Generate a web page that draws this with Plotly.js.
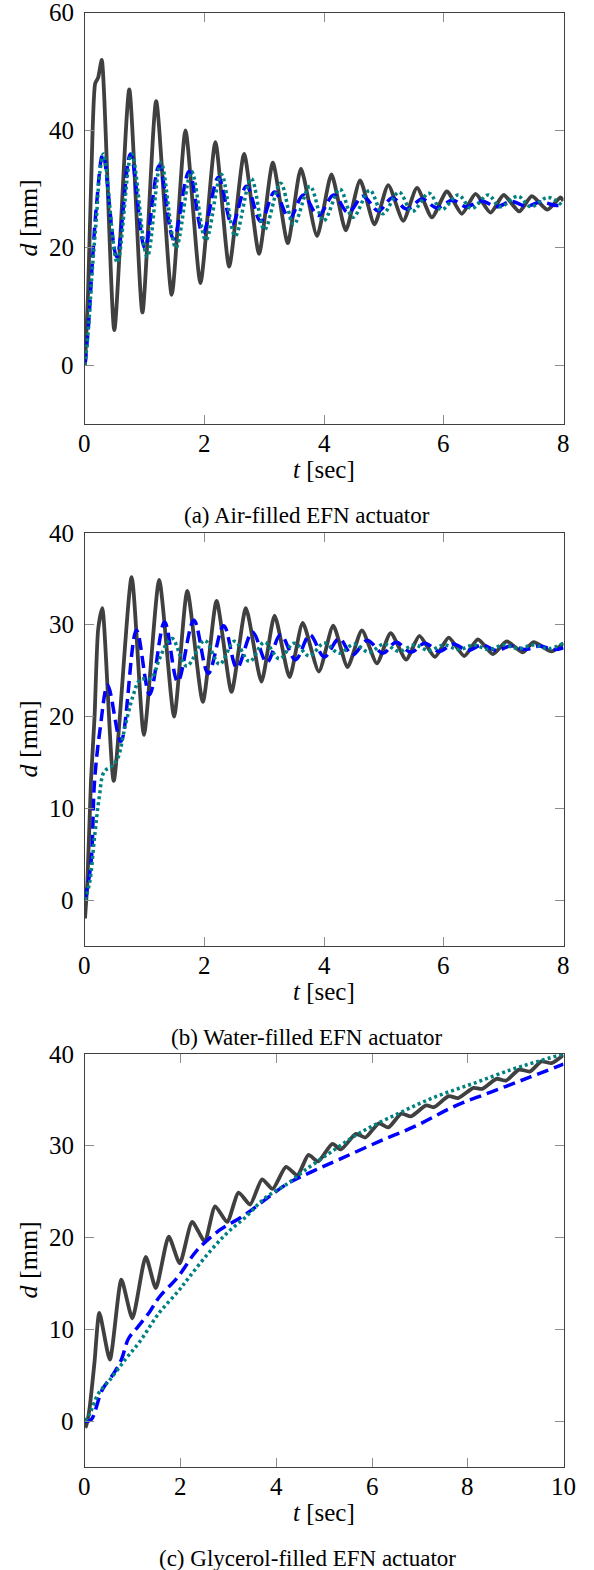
<!DOCTYPE html>
<html>
<head>
<meta charset="utf-8">
<script src="https://cdn.plot.ly/plotly-3.0.1.min.js"></script>
<style>
html,body{margin:0;padding:0;background:#fff;}
#chart{width:594px;height:1570px;}
</style>
</head>
<body>
<div id="chart"></div>
<script>
// ---------- (a) Air-filled ----------
const tA_exp = [0, 0.05, 0.1, 0.17, 0.22, 0.28, 0.49, 0.74, 0.96, 1.19, 1.45, 1.68, 1.93, 2.18, 2.41, 2.66, 2.91, 3.14, 3.39, 3.61, 3.88, 4.12, 4.36, 4.6, 4.84, 5.07, 5.32, 5.55, 5.8, 6.05, 6.3, 6.53, 6.78, 7.0, 7.26, 7.47, 7.73, 7.95, 8.0];
const dA_exp = [0, 12, 30, 48, 49, 52, 6, 47, 9, 45, 12, 40, 14, 38, 16.8, 36, 19, 34.5, 20.8, 33.5, 22, 32.5, 23, 31.5, 24, 30.7, 24.6, 30.2, 25.2, 29.6, 25.8, 29.2, 26, 29, 26.2, 28.8, 26.5, 28.6, 28];
const tA_m1 = [0, 0.06, 0.12, 0.19, 0.3, 0.53, 0.76, 1.0, 1.24, 1.48, 1.74, 1.97, 2.23, 2.46, 2.7, 2.94, 3.17, 3.42, 3.65, 3.9, 4.16, 4.4, 4.65, 4.9, 5.14, 5.38, 5.64, 5.88, 6.14, 6.38, 6.63, 6.88, 7.13, 7.38, 7.62, 7.88, 8.0];
const dA_m1 = [0, 7, 17, 27, 36, 18.5, 36, 20, 34, 21.5, 33, 22.5, 32, 24, 30.5, 24.5, 29.5, 25, 29, 25.5, 29, 26, 28.8, 26.3, 28.5, 26.6, 28.3, 26.8, 28.1, 27, 28, 27, 27.9, 27.1, 27.8, 27.2, 27.4];
const tA_m2 = [0, 0.06, 0.12, 0.19, 0.25, 0.31, 0.54, 0.78, 1.04, 1.27, 1.52, 1.78, 2.02, 2.28, 2.51, 2.78, 3.0, 3.27, 3.49, 3.76, 3.99, 4.26, 4.48, 4.76, 4.98, 5.25, 5.47, 5.75, 5.96, 6.24, 6.46, 6.74, 6.94, 7.24, 7.45, 7.74, 8.0];
const dA_m2 = [0, 6.6, 16, 25, 33, 36, 17.5, 36, 18.5, 34.5, 20, 33, 21.3, 32.5, 22, 31.8, 23.1, 31, 24, 30.5, 24.6, 30, 25.2, 29.8, 25.8, 29.5, 26.2, 29.3, 26.5, 29, 26.7, 29, 27, 28.8, 27, 28.6, 27.0];

// ---------- (b) Water-filled ----------
const tB_exp = [0, 0.04, 0.1, 0.16, 0.22, 0.29, 0.48, 0.78, 0.985, 1.24, 1.49, 1.71, 1.97, 2.2, 2.45, 2.69, 2.95, 3.17, 3.42, 3.64, 3.91, 4.15, 4.39, 4.63, 4.88, 5.11, 5.37, 5.59, 5.85, 6.08, 6.34, 6.57, 6.82, 7.05, 7.32, 7.5, 7.8, 8.0];
const dB_exp = [-2, 2, 13, 20, 29.5, 31.8, 13, 35.2, 18, 34.9, 20, 33.7, 21.6, 32.6, 22.7, 31.8, 23.8, 31, 24.3, 30.2, 24.9, 29.9, 25.4, 29.4, 25.8, 29.1, 26.2, 28.8, 26.5, 28.6, 26.6, 28.4, 26.8, 28.2, 27, 28.1, 27.1, 28];
const tB_m1 = [0, 0.1, 0.16, 0.25, 0.38, 0.6, 0.86, 1.08, 1.33, 1.55, 1.82, 2.06, 2.32, 2.54, 2.8, 3.04, 3.27, 3.52, 3.76, 4.0, 4.25, 4.47, 4.72, 4.98, 5.2, 5.45, 5.68, 5.92, 6.16, 6.4, 6.64, 6.88, 7.12, 7.36, 7.6, 7.84, 8.0];
const dB_m1 = [0, 4, 13, 18.5, 23.4, 17.3, 29.4, 22.4, 30.3, 23.8, 30.5, 24.7, 29.9, 25.3, 29.2, 25.9, 28.9, 26.2, 28.9, 26.5, 28.5, 26.7, 28.3, 26.9, 28.1, 27, 28, 27.1, 27.9, 27.2, 27.8, 27.2, 27.7, 27.3, 27.7, 27.3, 27.5];
const tB_m2 = [0, 0.08, 0.16, 0.24, 0.32, 0.45, 0.55, 0.67, 0.8, 0.92, 1.11, 1.24, 1.37, 1.46, 1.7, 2.0, 2.25, 2.5, 2.75, 3.0, 3.25, 3.5, 3.75, 4.0, 4.25, 4.5, 4.75, 5.0, 5.25, 5.5, 5.75, 6.0, 6.25, 6.5, 6.75, 7.0, 7.25, 7.5, 7.75, 8.0];
const dB_m2 = [0, 2, 6.9, 11.3, 14, 14.6, 15.5, 18.9, 22.2, 24, 24.2, 26.2, 28, 28.5, 25.5, 28.3, 25.7, 28.2, 26, 28.1, 26.3, 28, 26.6, 28, 26.9, 27.9, 27, 27.9, 27.1, 27.8, 27.2, 27.8, 27.3, 27.8, 27.3, 27.8, 27.4, 27.8, 27.4, 28];

// ---------- (c) Glycerol-filled ----------
const tC_exp = [0, 0.03, 0.1, 0.2, 0.3, 0.52, 0.76, 0.99, 1.27, 1.48, 1.75, 1.98, 2.24, 2.5, 2.72, 2.97, 3.21, 3.45, 3.7, 3.92, 4.2, 4.44, 4.67, 4.87, 5.17, 5.35, 5.66, 5.86, 6.14, 6.34, 6.61, 6.81, 7.13, 7.29, 7.6, 7.8, 8.12, 8.3, 8.6, 8.8, 9.07, 9.3, 9.54, 9.75, 10];
const dC_exp = [0, -0.6, 1.6, 6.5, 11.8, 6.7, 15.4, 11.2, 17.9, 14.5, 20.1, 17.2, 21.7, 19.6, 23.4, 21.7, 24.9, 23.6, 26.35, 25.3, 27.7, 26.8, 29, 28.3, 30.2, 29.6, 31.3, 30.9, 32.45, 32, 33.5, 33.2, 34.4, 34.2, 35.4, 35.2, 36.3, 36.2, 37.3, 37.1, 38.3, 38.1, 39.2, 39.0, 39.9];
const tC_m1 = [0, 0.12, 0.36, 0.6, 0.76, 0.91, 1.11, 1.35, 1.55, 1.94, 2.34, 2.81, 3.29, 3.76, 4.24, 4.79, 5.35, 6.14, 6.93, 7.72, 8.51, 9.31, 10];
const dC_m1 = [0, 0.1, 3.4, 5.2, 6.7, 9, 10.3, 11.9, 13.5, 15.7, 18.6, 20.8, 22.3, 24.1, 25.9, 27.3, 28.6, 30.45, 32.2, 34.3, 35.9, 37.5, 38.9];
const tC_m2 = [0, 0.1, 0.28, 0.52, 0.84, 1.15, 1.55, 1.94, 2.18, 2.58, 2.97, 3.37, 3.76, 4.24, 4.56, 5.11, 5.74, 6.54, 7.33, 8.12, 8.91, 9.47, 10];
const dC_m2 = [0, 0.8, 3, 4.5, 6.7, 8.7, 11.8, 14.1, 15.7, 18.3, 20.5, 22.3, 24.3, 25.9, 27.2, 29.2, 31.4, 33.5, 35.35, 36.8, 38.3, 39.2, 40];

// ---------- ticks & labels ----------
const xTicks8 = [0, 2, 4, 6, 8];
const xTicks10 = [0, 2, 4, 6, 8, 10];
const yTicksA = [0, 20, 40, 60];
const yTicksBC = [0, 10, 20, 30, 40];
const xTitle = '<i>t</i> [sec]';
const yTitle = '<i>d</i> [mm]';
const captions = ['(a) Air-filled EFN actuator', '(b) Water-filled EFN actuator', '(c) Glycerol-filled EFN actuator'];

const W = 594, H = 1570;
const FONT = "Liberation Serif";
const colExp = '#404040', colM1 = '#0000ff', colM2 = '#008080';

function line(x, y, xa, ya, color, dash, smooth, w) {
  return {x, y, xaxis: xa, yaxis: ya, type: 'scatter', mode: 'lines',
    line: {color, width: w, dash, shape: 'spline', smoothing: smooth}, hoverinfo: 'skip'};
}
const traces = [
  line(tA_exp, dA_exp, 'x', 'y', colExp, 'solid', 0.6, 3.8),
  line(tA_m1, dA_m1, 'x', 'y', colM1, '12px,6px', 1, 3.5),
  line(tA_m2, dA_m2, 'x', 'y', colM2, '3px,3px', 1, 3.5),
  line(tB_exp, dB_exp, 'x2', 'y2', colExp, 'solid', 0.6, 3.8),
  line(tB_m1, dB_m1, 'x2', 'y2', colM1, '12px,6px', 1, 3.5),
  line(tB_m2, dB_m2, 'x2', 'y2', colM2, '3px,3px', 1, 3.5),
  line(tC_exp, dC_exp, 'x3', 'y3', colExp, 'solid', 0.6, 3.8),
  line(tC_m1, dC_m1, 'x3', 'y3', colM1, '12px,6px', 1, 3.5),
  line(tC_m2, dC_m2, 'x3', 'y3', colM2, '3px,3px', 1, 3.5)
];

const xL = 85, xR = 563.5;
const xDom = [xL / W, xR / W];
const panels = [
  {sx: '', top: 13, bottom: 424, xr: [0, 8], xt: xTicks8, yr: [-10, 60], yt: yTicksA, cap: 515},
  {sx: '2', top: 533, bottom: 946, xr: [0, 8], xt: xTicks8, yr: [-5, 40], yt: yTicksBC, cap: 1037},
  {sx: '3', top: 1054, bottom: 1467, xr: [0, 10], xt: xTicks10, yr: [-5, 40], yt: yTicksBC, cap: 1558}
];
const common = {showgrid: false, zeroline: false, showline: true, linecolor: '#404040', linewidth: 1.3,
  mirror: 'ticks', ticks: 'inside', ticklen: 9, tickcolor: '#8c8c8c', tickwidth: 1.2,
  showticklabels: false, fixedrange: true};

const layout = {
  width: W, height: H,
  margin: {l: 0, r: 0, t: 0, b: 0},
  paper_bgcolor: '#fff', plot_bgcolor: '#fff',
  showlegend: false,
  font: {family: FONT, size: 24, color: '#000'},
  annotations: []
};
const py = p => 1 - p / H;
const px = p => p / W;
const tf = s => ({family: FONT, size: s, color: '#000'});
panels.forEach(p => {
  layout['xaxis' + p.sx] = Object.assign({}, common, {range: p.xr, tickvals: p.xt, domain: xDom, anchor: 'y' + p.sx});
  layout['yaxis' + p.sx] = Object.assign({}, common, {range: p.yr, tickvals: p.yt, domain: [py(p.bottom), py(p.top)], anchor: 'x' + p.sx});
  p.yt.forEach(v => layout.annotations.push({text: String(v), xref: 'paper', x: px(76), xanchor: 'right',
    yref: 'y' + p.sx, y: v, yanchor: 'middle', showarrow: false, font: tf(25)}));
  p.xt.forEach(v => layout.annotations.push({text: String(v), xref: 'x' + p.sx, x: v, xanchor: 'center',
    yref: 'paper', y: py(p.bottom + 19), yanchor: 'middle', showarrow: false, font: tf(25)}));
  layout.annotations.push({text: xTitle, xref: 'paper', x: px((xL + xR) / 2), xanchor: 'center',
    yref: 'paper', y: py(p.bottom + 45), yanchor: 'middle', showarrow: false, font: tf(25)});
  layout.annotations.push({text: yTitle, xref: 'paper', x: px(28), xanchor: 'center', textangle: -90,
    yref: 'paper', y: py((p.top + p.bottom) / 2), yanchor: 'middle', showarrow: false, font: tf(26)});
});
captions.forEach((c, i) => layout.annotations.push({text: c, xref: 'paper', yref: 'paper', x: px(307), y: py(panels[i].cap),
  xanchor: 'center', yanchor: 'middle', showarrow: false, font: tf(23)}));

Plotly.newPlot('chart', traces, layout, {staticPlot: true, displayModeBar: false});
</script>
</body>
</html>
